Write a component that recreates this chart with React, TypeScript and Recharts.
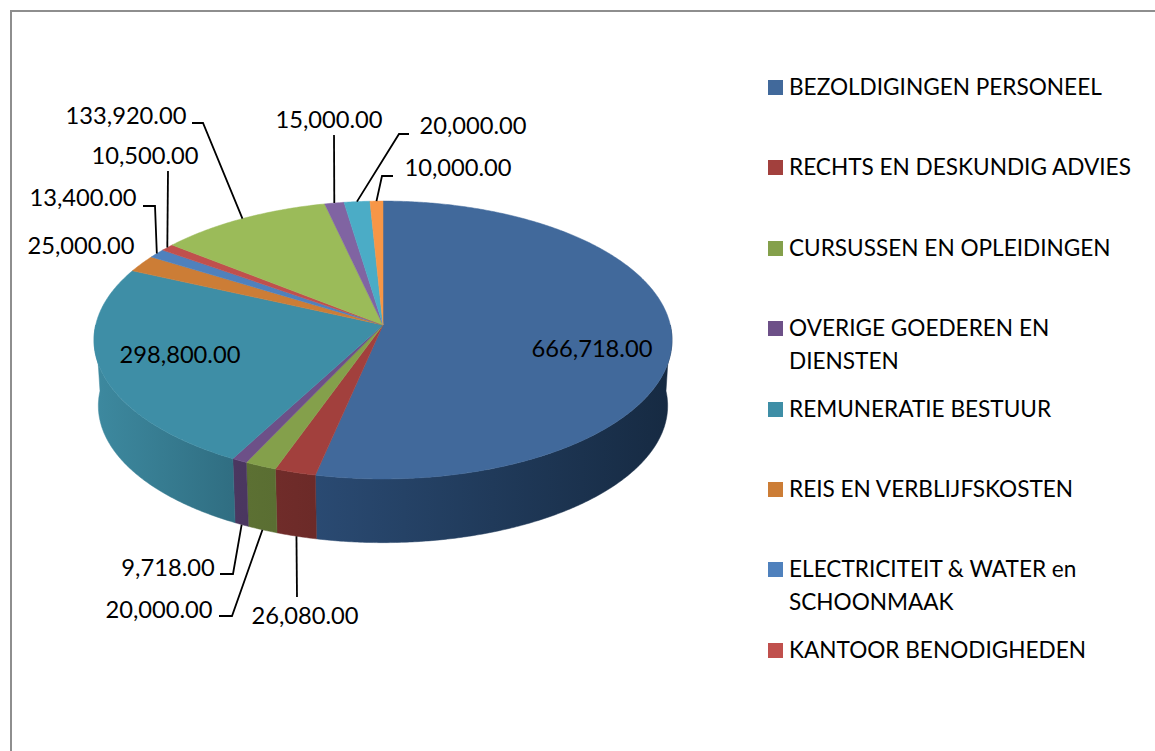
import React from "react";
import { PieChart, Pie, Legend } from "recharts";

const categories = [
  "BEZOLDIGINGEN PERSONEEL",
  "RECHTS EN DESKUNDIG ADVIES",
  "CURSUSSEN EN OPLEIDINGEN",
  "OVERIGE GOEDEREN EN DIENSTEN",
  "REMUNERATIE BESTUUR",
  "REIS EN VERBLIJFSKOSTEN",
  "ELECTRICITEIT & WATER en SCHOONMAAK",
  "KANTOOR BENODIGHEDEN",
  "",
  "",
  "",
  "",
];
const values = [666718, 26080, 20000, 9718, 298800, 25000, 13400, 10500, 133920, 15000, 20000, 10000];
const colors = ["#41699b", "#a2403d", "#84a04b", "#6d5088", "#3e8ea6", "#cc7d36", "#4f81bd", "#c0504d", "#9bbb59", "#8064a2", "#4bacc6", "#f79646"];
const wallStart = ["#2a4a72", "#702c2a", "#5c7033", "#4b3760", "#3d899f", "#8e5725", "#375a84", "#863836", "#6c823e", "#594671", "#34788a", "#ad6931"];
const wallEnd = ["#162a42", "#6c2a28", "#5a6e32", "#4a3660", "#306e82", "#8e5725", "#375a84", "#863836", "#6c823e", "#594671", "#34788a", "#ad6931"];

const rows = categories.map((name, i) => ({ name, value: values[i], fill: colors[i], wallStart: wallStart[i], wallEnd: wallEnd[i] }));

const LEGEND_ROWS = 8;
const FONT = "Lato, 'Open Sans', sans-serif";
const TILT = 0.478;
const PERSPECTIVE = 0.108;
const DEPTH = 66;
const BASE_SCALE = 0.985;

// label placement: text centre, then the bend of the leader (if any)
const labelSpots: { x: number; y: number; path?: [number, number][] }[] = [
  { x: 592, y: 348 },
  { x: 305, y: 615, path: [[297, 597]] },
  { x: 159, y: 609, path: [[219, 616], [232, 616]] },
  { x: 168, y: 567, path: [[220, 574], [233, 574]] },
  { x: 180, y: 354 },
  { x: 81, y: 245 },
  { x: 83, y: 197, path: [[143, 206], [155, 206]] },
  { x: 145, y: 155, path: [[168, 171]] },
  { x: 126, y: 115, path: [[192, 123], [203, 123]] },
  { x: 329, y: 119, path: [[334, 135]] },
  { x: 473, y: 125, path: [[409, 134], [399, 134]] },
  { x: 458, y: 167, path: [[393, 176], [382, 176]] },
];

function rim(cx: number, cy: number, r: number, tDeg: number, base = false) {
  const t = (tDeg * Math.PI) / 180;
  const d = 1 + PERSPECTIVE * Math.cos(t);
  const s = base ? BASE_SCALE : 1;
  return {
    x: cx + (s * r * Math.sin(t)) / d,
    y: cy + (base ? DEPTH : 0) - (s * r * TILT * Math.cos(t)) / d,
  };
}

function arcPoints(cx: number, cy: number, r: number, t0: number, t1: number, base = false) {
  const n = Math.max(2, Math.ceil(Math.abs(t1 - t0) * 2));
  const pts: string[] = [];
  for (let i = 0; i <= n; i++) {
    const p = rim(cx, cy, r, t0 + ((t1 - t0) * i) / n, base);
    pts.push(`${p.x.toFixed(2)} ${p.y.toFixed(2)}`);
  }
  return pts;
}

function TopShape(props: any) {
  const { cx, cy, outerRadius, startAngle, endAngle, fill } = props;
  const t0 = 90 - startAngle;
  const t1 = 90 - endAngle;
  const d = `M${cx} ${cy}L${arcPoints(cx, cy, outerRadius, t0, t1).join("L")}Z`;
  return <path d={d} fill={fill} stroke={fill} strokeWidth={0.5} />;
}

function WallShape(props: any) {
  const { cx, cy, outerRadius, startAngle, endAngle, wallStart: left, wallEnd: right } = props;
  const t0 = Math.max(90 - startAngle, 90);
  const t1 = Math.min(90 - endAngle, 270);
  if (t1 <= t0) return <g />;
  const top = arcPoints(cx, cy, outerRadius, t0, t1);
  const bottom = arcPoints(cx, cy, outerRadius, t1, t0, true);
  const a = rim(cx, cy, outerRadius, t0);
  const b = rim(cx, cy, outerRadius, t1);
  const id = `wall-${Math.round(t0)}`;
  // t runs clockwise along the front, so a is the right end and b the left end
  const x0 = Math.min(a.x, b.x);
  const x1 = Math.max(a.x, b.x);
  return (
    <g>
      <defs>
        <linearGradient id={id} gradientUnits="userSpaceOnUse" x1={x0} x2={x1} y1={0} y2={0}>
          <stop offset="0" stopColor={left} />
          <stop offset="1" stopColor={right} />
        </linearGradient>
      </defs>
      <path d={`M${top.join("L")}L${bottom.join("L")}Z`} fill={`url(#${id})`} stroke={`url(#${id})`} strokeWidth={0.5} />
    </g>
  );
}

function renderLabel(props: any) {
  const { cx, cy, outerRadius, midAngle, value, index } = props;
  const spot = labelSpots[index];
  const t = ((90 - midAngle) % 360 + 360) % 360;
  const isFront = t > 90 && t < 270;
  const p = rim(cx, cy, outerRadius, t, isFront);
  const text = Number(value).toLocaleString("en-US", { minimumFractionDigits: 2, maximumFractionDigits: 2 });
  return (
    <g key={index}>
      {spot.path && (
        <polyline
          points={[...spot.path, [p.x, p.y]].map((q) => q.join(",")).join(" ")}
          fill="none"
          stroke="#000"
          strokeWidth={1.8}
        />
      )}
      <text x={spot.x} y={spot.y} textAnchor="middle" dominantBaseline="central" fontFamily={FONT} fontSize={23.7} fill="#000">
        {text}
      </text>
    </g>
  );
}

function LegendBody({ payload }: any) {
  const items = (payload || []).filter((it: any) => it.type !== "none").slice(0, LEGEND_ROWS);
  return (
    <div style={{ position: "relative", width: 387, height: 600 }}>
      {items.map((it: any, i: number) => (
        <div key={i} style={{ position: "absolute", left: 0, top: i * 80.4, width: 387 }}>
          <div style={{ position: "absolute", left: 0, top: 0, width: 15, height: 15, background: it.color }} />
          <div style={{ position: "absolute", left: 21, top: -10, width: 350, fontFamily: FONT, fontSize: 22.6, lineHeight: "33px", color: "#000" }}>
            {it.value}
          </div>
        </div>
      ))}
    </div>
  );
}

export default function App() {
  return (
    <div style={{ position: "absolute", left: 0, top: 0, width: 1155, height: 751, overflow: "hidden", background: "#fff" }}>
      <div style={{ position: "absolute", left: 10, top: 10, width: 1145, height: 741, borderLeft: "2px solid #8e8e8e", borderTop: "2px solid #8e8e8e", boxSizing: "border-box" }} />
      <div style={{ position: "absolute", left: 0, top: 0 }}>
        <PieChart width={1155} height={751} margin={{ top: 0, right: 0, bottom: 0, left: 0 }}>
          <Pie
            data={rows}
            dataKey="value"
            nameKey="name"
            cx={383}
            cy={325}
            outerRadius={287.3}
            startAngle={90}
            endAngle={-270}
            legendType="none"
            isAnimationActive={false}
            shape={WallShape}
            stroke="none"
          />
          <Pie
            data={rows}
            dataKey="value"
            nameKey="name"
            cx={383}
            cy={325}
            outerRadius={287.3}
            startAngle={90}
            endAngle={-270}
            isAnimationActive={false}
            shape={TopShape}
            stroke="none"
            label={renderLabel}
            labelLine={false}
          />
          <Legend itemSorter={null} content={<LegendBody />} wrapperStyle={{ position: "absolute", left: 768, top: 80, width: 387 }} />
        </PieChart>
      </div>
    </div>
  );
}
